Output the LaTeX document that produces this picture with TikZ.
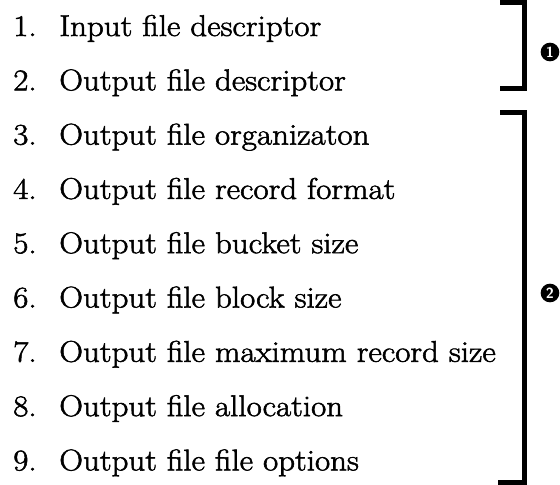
\documentclass[tikz,border=0pt]{standalone}
\usepackage{fontspec}
\setmainfont{Latin Modern Roman}[FakeStretch=1.1, FakeBold=1.8]
\usepackage{tikz}
\usetikzlibrary{calc}

\tikzset{
  itemnum/.style={anchor=base west, inner sep=0pt, font=\fontsize{22.5}{27}\selectfont},
  itemtext/.style={anchor=base west, inner sep=0pt, font=\fontsize{22.5}{27}\selectfont},
  bracket/.style={line width=3.75pt, line cap=butt, line join=miter},
  callout/.style={circle, fill=black, text=white, inner sep=0pt, minimum size=14pt,
    font=\fontsize{11}{11}\sffamily\bfseries}
}

\begin{document}
\begin{tikzpicture}[x=0.75pt,y=0.75pt,yscale=-1,xscale=1]
\path[use as bounding box] (0,0) rectangle (560,485);

% Text Node
\node[itemnum] (n1) at (13,36) {1.};
\node[itemtext] (t1) at (59,36) {Input file descriptor};
% Text Node
\node[itemnum] (n2) at (13,90.3) {2.};
\node[itemtext] (t2) at (59,90.3) {Output file descriptor};
% Text Node
\node[itemnum] (n3) at (13,144.6) {3.};
\node[itemtext] (t3) at (59,144.6) {Output file organizaton};
% Text Node
\node[itemnum] (n4) at (13,198.9) {4.};
\node[itemtext] (t4) at (59,198.9) {Output file record format};
% Text Node
\node[itemnum] (n5) at (13,253.2) {5.};
\node[itemtext] (t5) at (59,253.2) {Output file bucket size};
% Text Node
\node[itemnum] (n6) at (13,307.5) {6.};
\node[itemtext] (t6) at (59,307.5) {Output file block size};
% Text Node
\node[itemnum] (n7) at (13,361.8) {7.};
\node[itemtext] (t7) at (59,361.8) {Output file maximum record size};
% Text Node
\node[itemnum] (n8) at (13,416.1) {8.};
\node[itemtext] (t8) at (59,416.1) {Output file allocation};
% Text Node
\node[itemnum] (n9) at (13,470.4) {9.};
\node[itemtext] (t9) at (59,470.4) {Output file file options};

%Bracket 1
\draw[bracket] (500,2.5) -- (524.5,2.5) -- (524.5,88.5) -- (500,88.5) ;
%Bracket 2
\draw[bracket] (500,112) -- (524.5,112) -- (524.5,482) -- (498,482) ;

% Callouts
\node[callout] (m1) at (550,52) {1};
\node[callout] (m2) at (550,293) {2};

\end{tikzpicture}
\end{document}
